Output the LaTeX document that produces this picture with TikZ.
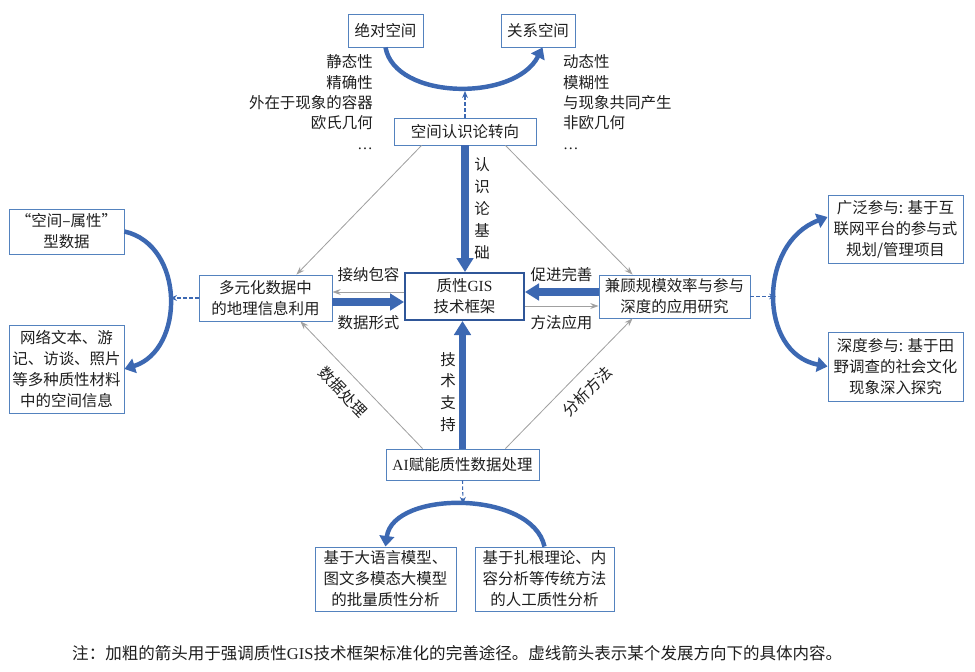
\documentclass[tikz,border=0pt]{standalone}
\usepackage{fontspec}
\setmainfont{Noto Sans CJK SC}
\newfontfamily\latin{Liberation Serif}
\usetikzlibrary{arrows.meta}
\usetikzlibrary{calc}
\definecolor{box-blue}{RGB}{84,130,190}
\definecolor{frame-blue}{RGB}{47,86,152}
\definecolor{arrow-blue}{RGB}{60,104,178}
\definecolor{line-gray}{RGB}{160,160,160}
\definecolor{text-dark}{RGB}{30,30,30}
\tikzset{
  box/.style={draw=box-blue, line width=0.8pt, align=center, inner sep=1pt, text=text-dark, font=\fontsize{13.2}{18}\selectfont},
  mainbox/.style={box, draw=frame-blue, line width=1.6pt},
  edgetext/.style={inner sep=0pt, text=text-dark, font=\fontsize{13.2}{18}\selectfont},
  thick arrow/.style={draw=arrow-blue, line width=6pt, -{Triangle[length=12pt,width=14pt]}},
  bow/.style={draw=arrow-blue, line width=3.8pt, -{Triangle[length=9pt,width=12.5pt]}},
  bow both/.style={bow, {Triangle[length=9pt,width=12.5pt]}-{Triangle[length=9pt,width=12.5pt]}},
  grey arrow/.style={draw=line-gray, line width=0.7pt, -{Stealth[length=7pt,width=5pt]}},
  thin dashed/.style={draw=arrow-blue, line width=0.9pt, dash pattern=on 3pt off 2pt, -{Stealth[length=6pt,width=5pt]}}
}
\begin{document}
\begin{tikzpicture}[x=0.03cm, y=-0.03cm]
\useasboundingbox (0,0) rectangle (975,672);
\node[box, minimum width=2.25cm, minimum height=0.99cm] (absolute) at (385.5,30.5) {绝对空间};
\node[box, minimum width=2.22cm, minimum height=0.99cm] (relational) at (538,30.5) {关系空间};
\node[box, minimum width=4.26cm, minimum height=0.81cm] (turn) at (465,131.5) {空间认识论转向};
\node[mainbox, minimum width=3.57cm, minimum height=1.41cm] (gis) at (464.5,296.5) {质性{\latin GIS}\\技术框架};
\node[box, minimum width=3.99cm, minimum height=1.38cm] (multidata) at (265.5,298) {多元化数据中\\的地理信息利用};
\node[box, minimum width=4.53cm, minimum height=1.29cm] (applied) at (674.5,296.5) {兼顾规模效率与参与\\深度的应用研究};
\node[box, minimum width=4.59cm, minimum height=0.93cm] (ai) at (462.5,464.5) {{\latin AI}赋能质性数据处理};
\node[box, minimum width=4.23cm, minimum height=1.92cm] (llm) at (385.5,579) {基于大语言模型、\\图文多模态大模型\\的批量质性分析};
\node[box, minimum width=4.17cm, minimum height=1.92cm] (manual) at (544.5,579) {基于扎根理论、内\\容分析等传统方法\\的人工质性分析};
\node[box, minimum width=3.45cm, minimum height=1.35cm] (spattr) at (66.5,231.5) {“空间–属性”\\型数据};
\node[box, minimum width=3.45cm, minimum height=2.64cm] (qualmat) at (66.5,369) {网络文本、游\\记、访谈、照片\\等多种质性材料\\中的空间信息};
\node[box, minimum width=4.05cm, minimum height=2.04cm] (broad) at (895.5,229) {广泛参与: 基于互\\联网平台的参与式\\规划/管理项目};
\node[box, minimum width=4.05cm, minimum height=2.07cm] (deep) at (895.5,366.5) {深度参与: 基于田\\野调查的社会文化\\现象深入探究};

\node[edgetext, align=right, anchor=east, font=\fontsize{13.2}{17.4}\selectfont] (absprops) at (373,102) {静态性\\精确性\\外在于现象的容器\\欧氏几何\\{\latin …}};
\node[edgetext, align=left, anchor=west, font=\fontsize{13.2}{17.4}\selectfont] (relprops) at (563,102) {动态性\\模糊性\\与现象共同产生\\非欧几何\\{\latin …}};
\node[edgetext, align=center, font=\fontsize{13.2}{18.7}\selectfont] (basis) at (482,208.5) {认\\识\\论\\基\\础};
\node[edgetext, align=center, font=\fontsize{13.2}{18.7}\selectfont] (support) at (448,392) {技\\术\\支\\持};
\node[edgetext] (accept) at (368.5,275) {接纳包容};
\node[edgetext] (dataform) at (368.5,323) {数据形式};
\node[edgetext] (improve) at (561.5,275) {促进完善};
\node[edgetext] (method) at (561.5,323) {方法应用};
\node[edgetext, rotate=-46] (dataproc) at (343,392) {数据处理};
\node[edgetext, rotate=45] (analysis) at (587,391) {分析方法};

\coordinate (tbow) at (465,91);
\coordinate (lbow) at (170,298);
\coordinate (rbow) at (776,296.5);
\coordinate (bbow) at (463,504);

\draw[bow] (absolute.south) .. controls (395,100) and (515,102) .. (relational.-75);
\draw[bow] (spattr.east) .. controls (185,245) and (185,350) .. (qualmat.east);
\draw[bow both] (broad.170) .. controls (758,243) and (758,353) .. (deep.west);
\draw[bow] (manual.north) .. controls (532,490) and (393,490) .. (llm.north);

\draw[thin dashed] (turn.north) -- (tbow);
\draw[thin dashed] (multidata.west) -- (lbow);
\draw[thin dashed] (applied.east) -- (rbow);
\draw[thin dashed] (ai.south) -- (bbow);

\draw[thick arrow] (turn.south) -- (turn.south |- gis.north);
\draw[thick arrow] (ai.north) -- (ai.north |- gis.south);
\draw[thick arrow] ($(multidata.east)+(0,4)$) -- ($(gis.west)+(0,5.5)$);
\draw[thick arrow] ($(applied.west)+(0,-4.5)$) -- ($(gis.east)+(0,-4.5)$);

\draw[grey arrow] ($(gis.west)+(0,-4.5)$) -- ($(multidata.east)+(0,-6)$);
\draw[grey arrow] ($(gis.east)+(0,9.5)$) -- ($(applied.west)+(0,9.5)$);
\draw[grey arrow] ($(turn.south west)+(28,0)$) -- ($(multidata.north east)+(-36,0)$);
\draw[grey arrow] ($(turn.south east)+(-31,0)$) -- ($(applied.north west)+(34,0)$);
\draw[grey arrow] ($(ai.north west)+(37,0)$) -- ($(multidata.south east)+(-32,0)$);
\draw[grey arrow] ($(ai.north east)+(-34,0)$) -- ($(applied.south west)+(34,0)$);

\node[edgetext, anchor=west, font=\fontsize{14.1}{16}\selectfont] (note) at (72,653) {注：加粗的箭头用于强调质性{\latin GIS}技术框架标准化的完善途径。虚线箭头表示某个发展方向下的具体内容。};
\end{tikzpicture}
\end{document}
